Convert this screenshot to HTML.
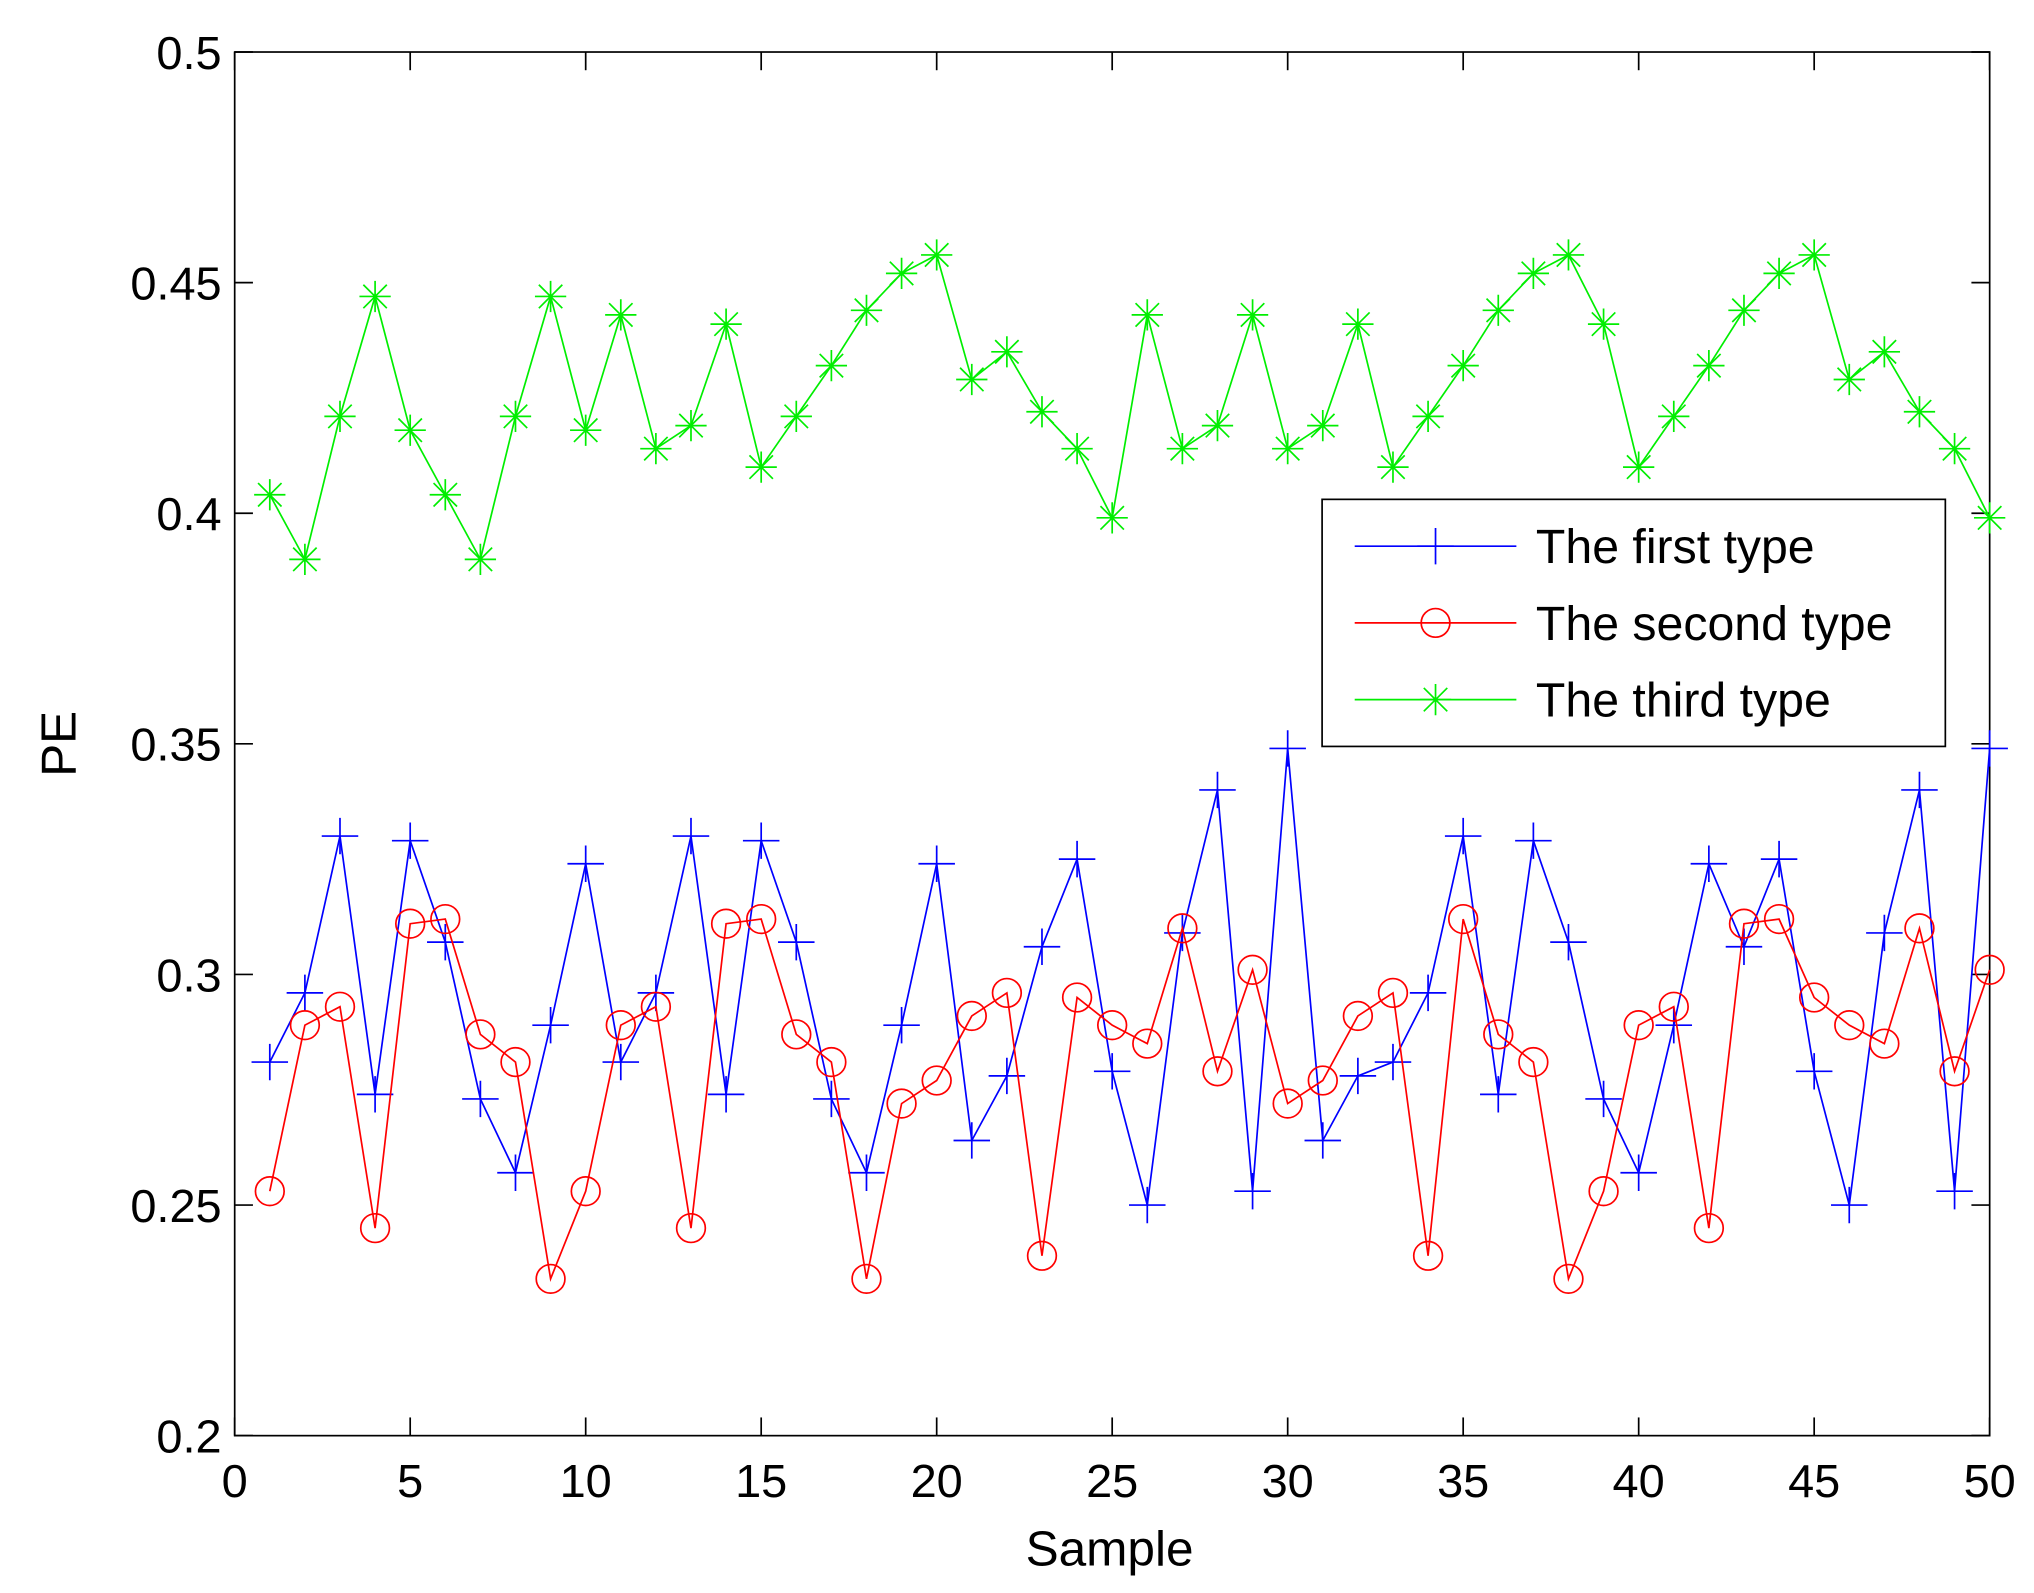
<!DOCTYPE html>
<html><head><meta charset="utf-8"><style>
html,body{margin:0;padding:0;background:#fff;}
svg{display:block;font-family:"Liberation Sans",Arial,sans-serif;}
</style></head><body>
<svg id="chart" width="2034" height="1593" viewBox="0 0 1560 1225" preserveAspectRatio="none" xmlns="http://www.w3.org/2000/svg">
<rect x="0" y="0" width="1560" height="1225" fill="#fff"/>
<g id="axes"></g>
<g id="series"></g>
<text x="851" y="1204" font-size="38" text-anchor="middle">Sample</text>
<text transform="translate(58,572) rotate(-90)" font-size="38" text-anchor="middle">PE</text>
<g id="legend">
<rect x="1014" y="384" width="478" height="190" fill="#fff" stroke="#000" stroke-width="1.3"/>
</g>
</svg>
<script>
const samples = Array.from({length:50},(_,i)=>i+1);
const firstType = [0.281,0.296,0.330,0.274,0.329,0.307,0.273,0.257,0.289,0.324,0.281,0.296,0.330,0.274,0.329,0.307,0.273,0.257,0.289,0.324,0.264,0.278,0.306,0.325,0.279,0.250,0.309,0.340,0.253,0.349,0.264,0.278,0.281,0.296,0.330,0.274,0.329,0.307,0.273,0.257,0.289,0.324,0.306,0.325,0.279,0.250,0.309,0.340,0.253,0.349];
const secondType = [0.253,0.289,0.293,0.245,0.311,0.312,0.287,0.281,0.234,0.253,0.289,0.293,0.245,0.311,0.312,0.287,0.281,0.234,0.272,0.277,0.291,0.296,0.239,0.295,0.289,0.285,0.310,0.279,0.301,0.272,0.277,0.291,0.296,0.239,0.312,0.287,0.281,0.234,0.253,0.289,0.293,0.245,0.311,0.312,0.295,0.289,0.285,0.310,0.279,0.301];
const thirdType = [0.404,0.390,0.421,0.447,0.418,0.404,0.390,0.421,0.447,0.418,0.443,0.414,0.419,0.441,0.410,0.421,0.432,0.444,0.452,0.456,0.429,0.435,0.422,0.414,0.399,0.443,0.414,0.419,0.443,0.414,0.419,0.441,0.410,0.421,0.432,0.444,0.452,0.456,0.441,0.410,0.421,0.432,0.444,0.452,0.456,0.429,0.435,0.422,0.414,0.399];
const xTicks = [0,5,10,15,20,25,30,35,40,45,50];
const yTicks = [0.2,0.25,0.3,0.35,0.4,0.45,0.5];
const yTickLabels = ["0.2","0.25","0.3","0.35","0.4","0.45","0.5"];

const L=180,R=1526,T=40,B=1104;
const X=v=>L+(v-0)/(50-0)*(R-L);
const Y=v=>B-(v-0.2)/(0.5-0.2)*(B-T);
const NS="http://www.w3.org/2000/svg";
function mk(tag,attrs,parent){const e=document.createElementNS(NS,tag);for(const k in attrs)e.setAttribute(k,attrs[k]);parent.appendChild(e);return e;}
const axes=document.getElementById('axes');
const box=mk('rect',{x:L,y:T,width:R-L,height:B-T,fill:'none',stroke:'#000','stroke-width':1.3},axes);


xTicks.forEach(t=>{
  mk('line',{x1:X(t),x2:X(t),y1:B,y2:B-14,stroke:'#000','stroke-width':1.3},axes);
  mk('line',{x1:X(t),x2:X(t),y1:T,y2:T+14,stroke:'#000','stroke-width':1.3},axes);
  const tx=mk('text',{x:X(t),y:B+47,'font-size':36,'text-anchor':'middle'},axes);
  tx.textContent=t;
  
  
});
yTicks.forEach((t,i)=>{
  mk('line',{x1:L,x2:L+14,y1:Y(t),y2:Y(t),stroke:'#000','stroke-width':1.3},axes);
  mk('line',{x1:R,x2:R-14,y1:Y(t),y2:Y(t),stroke:'#000','stroke-width':1.3},axes);
  const tx=mk('text',{x:L-10,y:Y(t)+13,'font-size':36,'text-anchor':'end'},axes);
  tx.textContent=yTickLabels[i];
  
  
});
function marker(type,x,y,c,g){
  if(type==='plus'){mk('path',{d:`M${x-14} ${y}H${x+14}M${x} ${y-14}V${y+14}`,stroke:c,'stroke-width':1.3,fill:'none'},g);}
  else if(type==='circle'){mk('circle',{cx:x,cy:y,r:11,stroke:c,'stroke-width':1.3,fill:'none'},g);}
  else {mk('path',{d:`M${x-12} ${y}H${x+12}M${x} ${y-12}V${y+12}M${x-9} ${y-9}L${x+9} ${y+9}M${x-9} ${y+9}L${x+9} ${y-9}`,stroke:c,'stroke-width':1.3,fill:'none'},g);}
}
const seriesG=document.getElementById('series');
const defs=[['first-type-series',firstType,'#0000ff','plus'],['second-type-series',secondType,'#ff0000','circle'],['third-type-series',thirdType,'#00ee00','star']];
defs.forEach(([name,vals,c,m])=>{
  const g=mk('g',{},seriesG);
  
  
  mk('polyline',{points:vals.map((v,i)=>X(samples[i])+','+Y(v)).join(' '),fill:'none',stroke:c,'stroke-width':1.3},g);
  vals.forEach((v,i)=>marker(m,X(samples[i]),Y(v),c,g));
});
const leg=document.getElementById('legend');
const labels=['The first type','The second type','The third type'];
defs.forEach(([name,vals,c,m],i)=>{
  const y=420+i*59;
  const g=mk('g',{},leg);
  
  
  mk('line',{x1:1039,x2:1163,y1:y,y2:y,stroke:c,'stroke-width':1.3},g);
  marker(m,1101,y,c,g);
  const tx=mk('text',{x:1178,y:y+13,'font-size':37},g);
  tx.textContent=labels[i];
});
</script>
</body></html>
